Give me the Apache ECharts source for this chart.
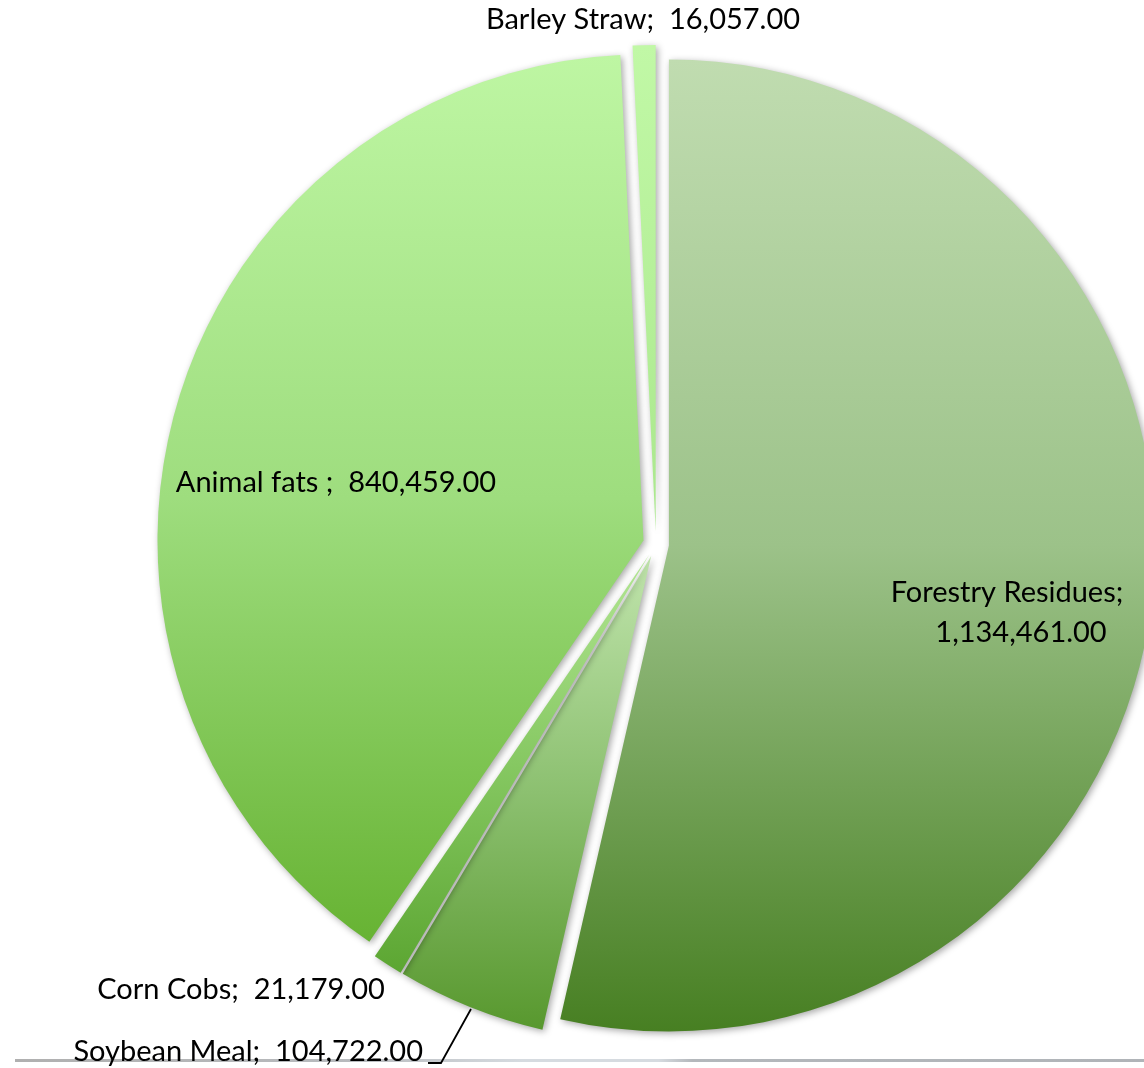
<!DOCTYPE html>
<html>
<head>
<meta charset="utf-8">
<script src="https://cdn.jsdelivr.net/npm/echarts@6/dist/echarts.min.js"></script>
<style>
html,body{margin:0;padding:0;background:#fff;}
#chart{width:1144px;height:1068px;}
</style>
</head>
<body>
<div id="chart"></div>
<script>
// ---- data ----
var categories = ['Forestry Residues', 'Soybean Meal', 'Corn Cobs', 'Animal fats ', 'Barley Straw'];
var values = [1134461, 104722, 21179, 840459, 16057];
// gradient colours per slice (top, middle, bottom)
var topColors = ['#c0dcb0', '#c0e4ac', '#b2e693', '#bef6a3', '#c1f8a6'];
var midColors = ['#9cc289', '#8cc070', '#86c862', '#9edd7e', '#b6f09a'];
var bottomColors = ['#477f22', '#58982e', '#5ca632', '#67b333', '#a9e78c'];

function fmt(v) {
  var s = v.toFixed(2);
  var parts = s.split('.');
  parts[0] = parts[0].replace(/\B(?=(\d{3})+(?!\d))/g, ',');
  return parts.join('.');
}

var chart = echarts.init(document.getElementById('chart'), null, {renderer: 'canvas'});

var cx = 656, cy = 544, R = 486;
var FONT = 'Lato, "Open Sans", sans-serif';
var FS = 29;

// label line placements, one entry per text line of each slice label
var labelPlacement = [
  [{x: 1007, y: 593, align: 'center'}, {x: 1021, y: 633, align: 'center'}],
  [{x: 423, y: 1052, align: 'right'}],
  [{x: 241, y: 990, align: 'center'}],
  [{x: 336, y: 483, align: 'center'}],
  [{x: 643, y: 20, align: 'center'}]
];

function labelLines(i) {
  if (i === 0) return [categories[i] + ';', fmt(values[i])];
  return [categories[i] + ';  ' + fmt(values[i])];
}

var graphics = [{
  type: 'rect',
  shape: {x: 15, y: 1059, width: 1129, height: 3},
  style: {
    fill: new echarts.graphic.LinearGradient(0, 0, 1, 0, [
      {offset: 0, color: '#b0b0b0'},
      {offset: 0.3, color: '#b8bbbe'},
      {offset: 0.45, color: '#d6dbe0'},
      {offset: 0.57, color: '#d6dbe0'},
      {offset: 0.6, color: '#b4b8bc'},
      {offset: 1, color: '#b0b4b8'}
    ])
  },
  z: 1
}];

categories.forEach(function (c, i) {
  var lines = labelLines(i);
  lines.forEach(function (t, k) {
    var p = labelPlacement[i][k];
    graphics.push({
      type: 'text',
      x: p.x,
      y: p.y,
      z: 100,
      style: {
        text: t,
        fill: '#000',
        font: FS + 'px ' + FONT,
        textAlign: p.align,
        textVerticalAlign: 'middle'
      }
    });
  });
});

// leader line for Soybean Meal
graphics.push({
  type: 'polyline',
  z: 100,
  shape: {points: [[471, 1009], [441, 1063], [428, 1063]]},
  style: {stroke: '#000', lineWidth: 1.8, fill: null}
});

var data = categories.map(function (c, i) {
  return {
    name: c,
    value: values[i],
    selected: true,
    itemStyle: {
      color: new echarts.graphic.LinearGradient(0, 0, 0, 1, [
        {offset: 0, color: topColors[i]},
        {offset: 0.5, color: midColors[i]},
        {offset: 1, color: bottomColors[i]}
      ])
    }
  };
});

chart.setOption({
  backgroundColor: '#ffffff',
  animation: false,
  graphic: graphics,
  series: [{
    type: 'pie',
    center: [cx, cy],
    radius: [0, R],
    startAngle: 90,
    clockwise: true,
    selectedMode: 'multiple',
    selectedOffset: 13,
    silent: true,
    itemStyle: {
      borderWidth: 0,
      shadowBlur: 7,
      shadowColor: 'rgba(0,0,0,0.35)',
      shadowOffsetX: 2,
      shadowOffsetY: 2
    },
    label: {show: false},
    labelLine: {show: false},
    emphasis: {disabled: true},
    data: data
  }]
});
</script>
</body>
</html>
